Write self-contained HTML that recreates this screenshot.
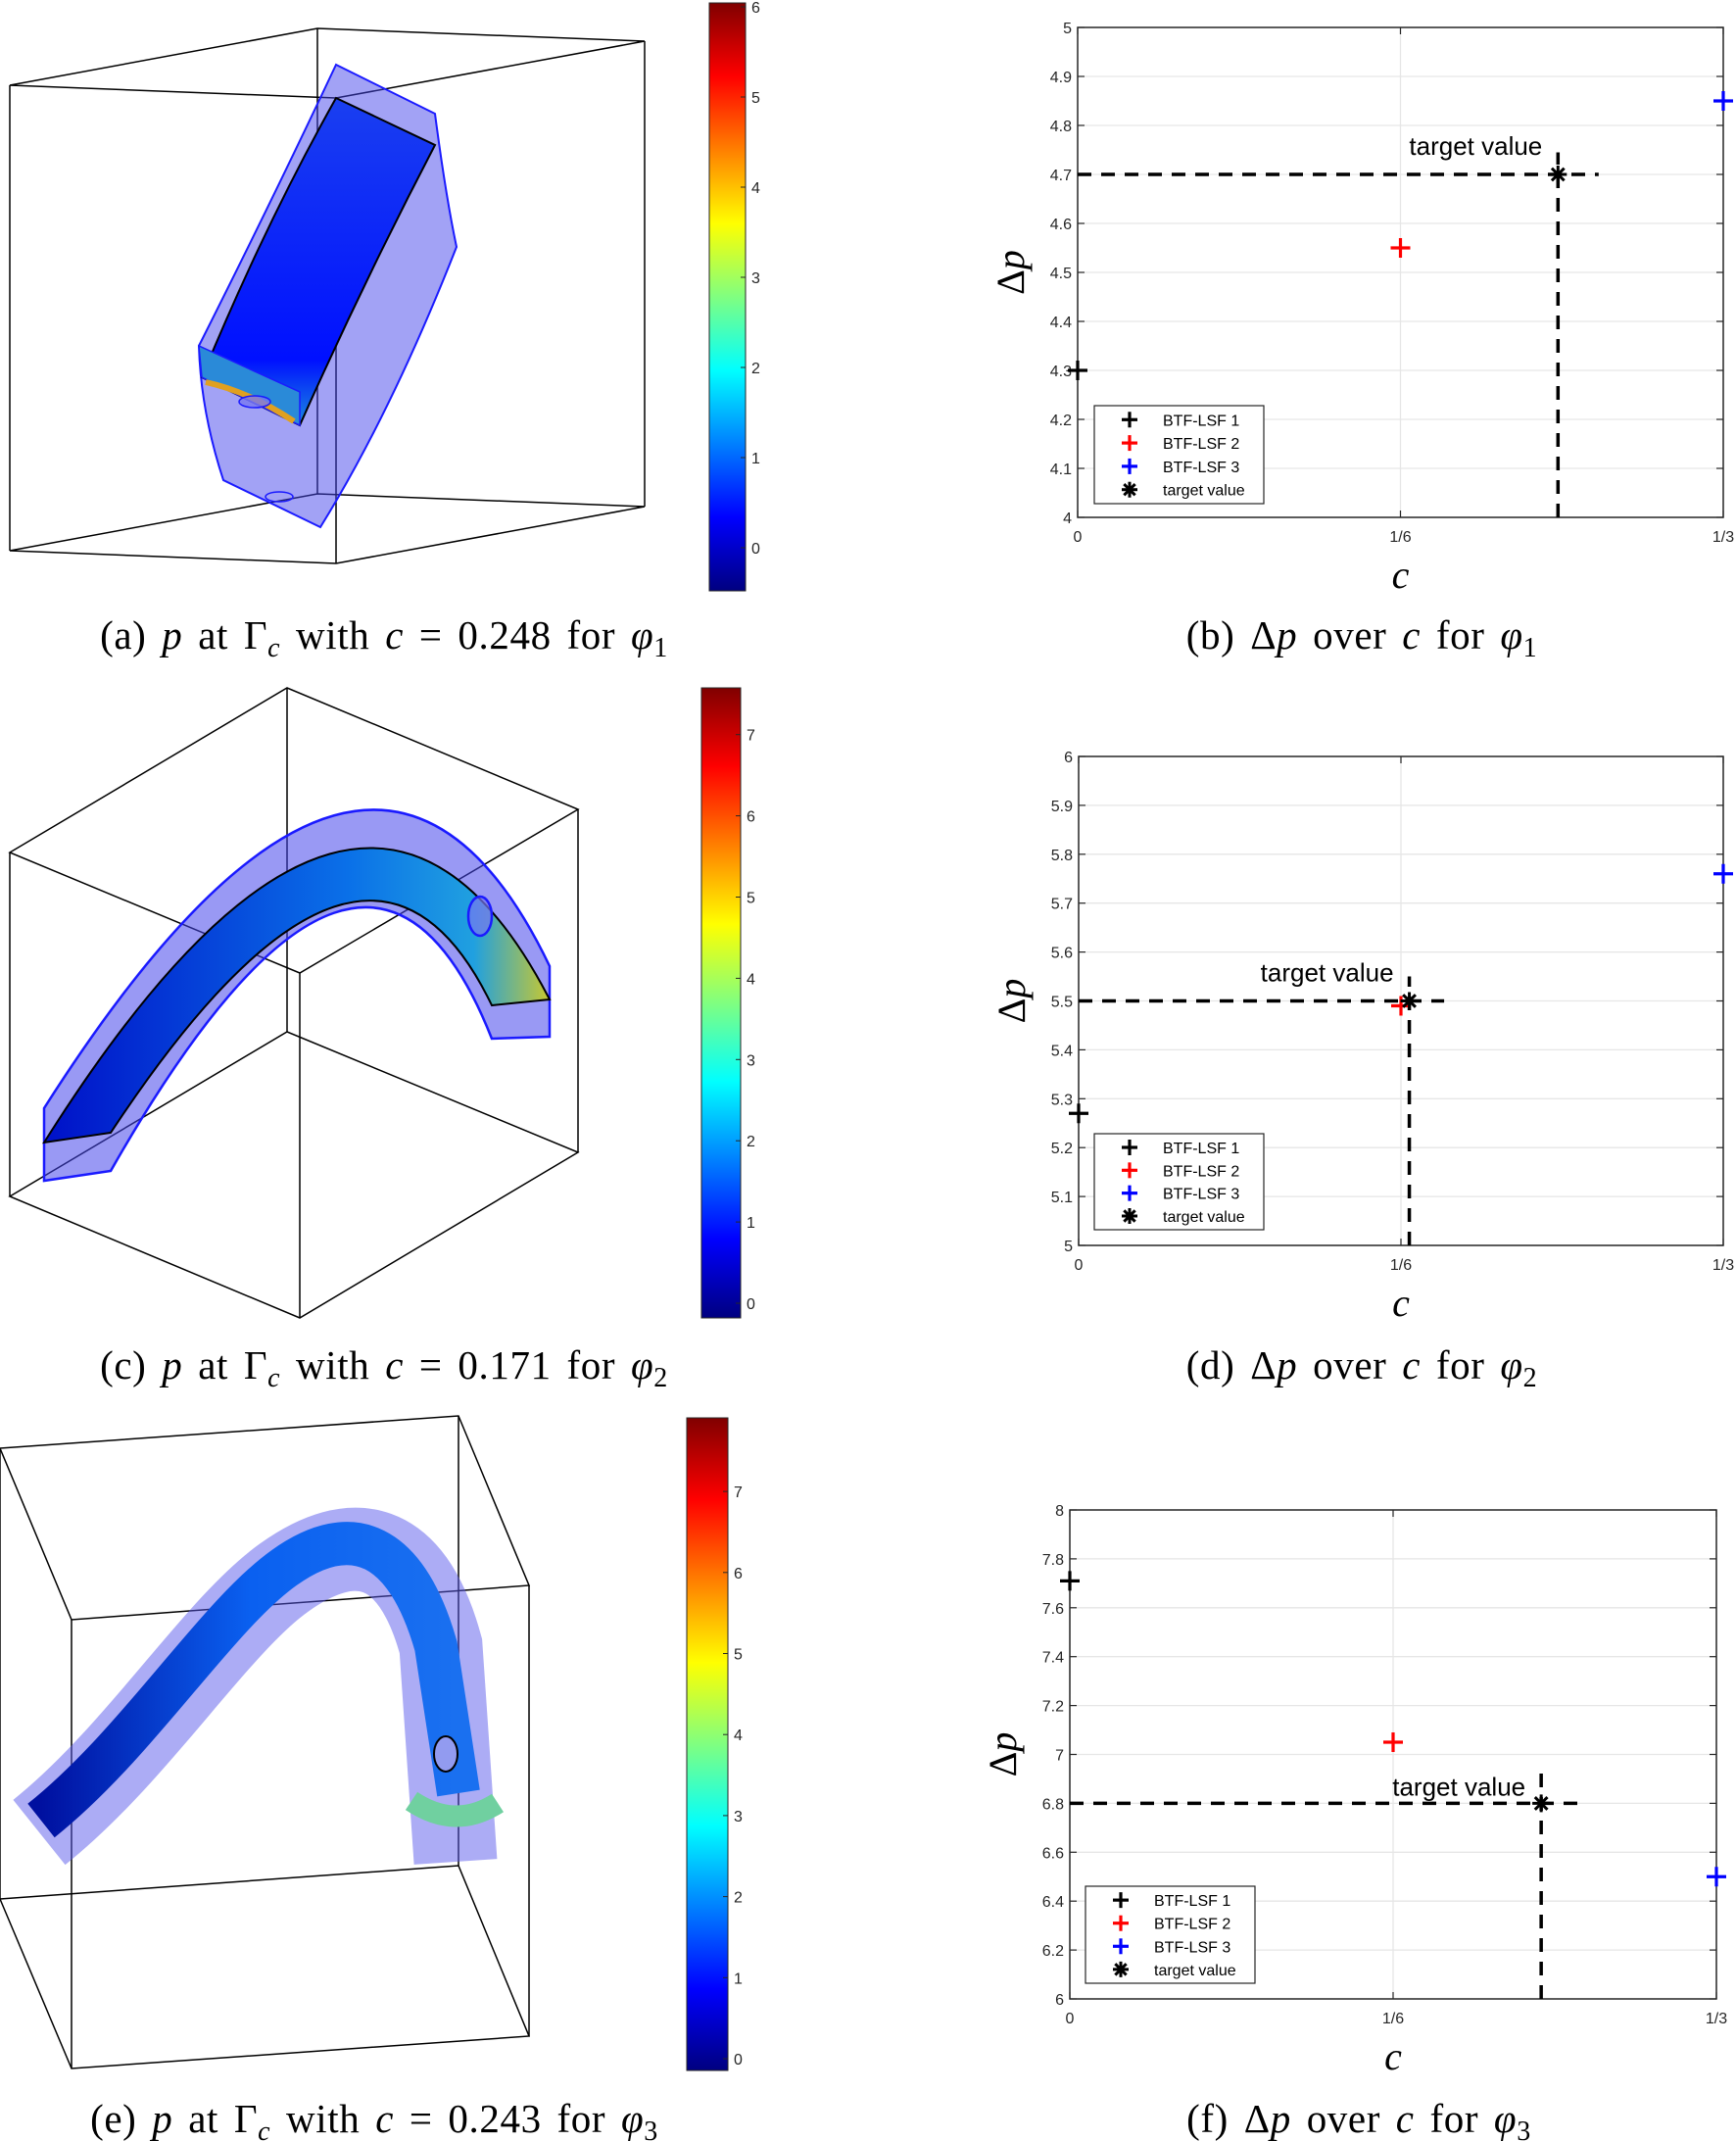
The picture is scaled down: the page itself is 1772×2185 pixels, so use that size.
<!DOCTYPE html>
<html><head><meta charset="utf-8">
<style>
html,body{margin:0;padding:0;background:#fff;}
svg{display:block;}
.tk{font-family:"Liberation Sans",sans-serif;font-size:16px;fill:#262626;}
.cap{font-family:"Liberation Serif",serif;font-size:41px;fill:#000;word-spacing:5px;letter-spacing:0.6px;}
</style></head>
<body>
<svg id="fig" width="1772" height="2185" viewBox="0 0 1772 2185" xmlns="http://www.w3.org/2000/svg">
<defs>
<linearGradient id="jet" x1="0" y1="0" x2="0" y2="1">
<stop offset="0" stop-color="#800000"/><stop offset="0.125" stop-color="#ff0000"/>
<stop offset="0.375" stop-color="#ffff00"/><stop offset="0.5" stop-color="#80ff80"/>
<stop offset="0.625" stop-color="#00ffff"/><stop offset="0.875" stop-color="#0000ff"/>
<stop offset="1" stop-color="#000080"/>
</linearGradient>
<linearGradient id="surfA" x1="0" y1="0" x2="0" y2="1">
<stop offset="0" stop-color="#1a3ff0"/><stop offset="0.8" stop-color="#0010ff"/><stop offset="1" stop-color="#1a8ae0"/>
</linearGradient>
<linearGradient id="surfC" x1="0" y1="0" x2="1" y2="0">
<stop offset="0" stop-color="#0010c8"/><stop offset="0.6" stop-color="#0a70e8"/><stop offset="0.85" stop-color="#20a0e0"/><stop offset="1" stop-color="#c8c830"/>
</linearGradient>
<linearGradient id="surfE" x1="0" y1="0" x2="1" y2="0">
<stop offset="0" stop-color="#0010a0"/><stop offset="0.5" stop-color="#0a60f0"/><stop offset="1" stop-color="#1a70f0"/>
</linearGradient>
</defs>

<!-- Panel (a) -->
<g fill="none" stroke="#000" stroke-width="1.5">
<polygon points="10,87 324,29 658,42 343,100"/>
<polygon points="10,562 324,504 658,517 343,575"/>
<line x1="10" y1="87" x2="10" y2="562"/><line x1="324" y1="29" x2="324" y2="504"/>
<line x1="658" y1="42" x2="658" y2="517"/><line x1="343" y1="100" x2="343" y2="575"/>
<path d="M343,66 L444,116 Q455,200 466,252 Q400,420 327,538 L228,490 Q205,420 203,353 Q280,200 343,66Z" fill="rgba(70,70,235,0.5)" stroke="#1a1aff" stroke-width="2"/>
<path d="M206,385 Q270,230 343,100 L444,148 Q370,290 306,434Z" fill="url(#surfA)" stroke="#000" stroke-width="2"/>
<path d="M203,353 L206,385 L306,434 L306,400Z" fill="#2a8ad8" stroke="#1a1aff" stroke-width="1.5"/>
<path d="M210,390 Q255,400 300,430" stroke="#e0a020" stroke-width="6"/>
<ellipse cx="260" cy="410" rx="16" ry="6" fill="rgba(120,120,240,0.8)" stroke="#1a1aff"/>
<ellipse cx="285" cy="507" rx="14" ry="5" stroke="#1a1aff"/>
</g>
<g>
<rect x="724" y="3" width="37" height="600" fill="url(#jet)" stroke="#262626" stroke-width="1"/>
<g class="tk" id="cbA"></g>
</g>

<!-- Panel (c) -->
<g fill="none" stroke="#000" stroke-width="1.5">
<polygon points="10,870 293,702 590,826 306,993"/>
<polygon points="10,1221 293,1053 590,1176 306,1345"/>
<line x1="10" y1="870" x2="10" y2="1221"/><line x1="293" y1="702" x2="293" y2="1053"/>
<line x1="590" y1="826" x2="590" y2="1176"/><line x1="306" y1="993" x2="306" y2="1345"/>
<path d="M45,1131 Q379,606 561,986 L561,1058 L502,1060 Q374,736 113,1195 L45,1205Z" fill="rgba(70,70,235,0.55)" stroke="#1a1aff" stroke-width="2.5"/>
<path d="M45,1166 Q370,650 561,1020 L502,1026 Q374,760 113,1156Z" fill="url(#surfC)" stroke="#000" stroke-width="2"/>
<ellipse cx="490" cy="935" rx="12" ry="20" stroke="#1a1aff" stroke-width="2.5" fill="rgba(120,120,240,0.7)"/>
</g>
<g>
<rect x="716" y="702" width="40" height="643" fill="url(#jet)" stroke="#262626" stroke-width="1"/>
<g class="tk" id="cbC"></g>
</g>

<!-- Panel (e) -->
<g fill="none" stroke="#000" stroke-width="1.5">
<polygon points="0,1478 468,1445 540,1618 73,1653"/>
<polygon points="0,1938 468,1904 540,2078 73,2111"/>
<line x1="0" y1="1478" x2="0" y2="1938"/><line x1="468" y1="1445" x2="468" y2="1904"/>
<line x1="540" y1="1618" x2="540" y2="2078"/><line x1="73" y1="1653" x2="73" y2="2111"/>
<path d="M40,1870 C140,1790 220,1660 290,1610 C360,1560 420,1570 450,1680 L465,1900" stroke="rgba(90,90,235,0.5)" stroke-width="85"/>
<path d="M42,1858 C140,1780 220,1650 290,1600 C360,1550 415,1575 445,1680 L468,1830" stroke="url(#surfE)" stroke-width="44"/>
<path d="M420,1838 Q465,1868 508,1840" stroke="#70d0a0" stroke-width="22"/>
<ellipse cx="455" cy="1790" rx="12" ry="18" fill="rgba(160,160,240,0.9)" stroke="#000" stroke-width="2"/>
</g>
<g>
<rect x="701" y="1447" width="42" height="666" fill="url(#jet)" stroke="#262626" stroke-width="1"/>
<g class="tk" id="cbE"></g>
</g>

<g id="charts"></g>

<text class="cap" x="392" y="662" text-anchor="middle">(a) <tspan font-style="italic">p</tspan> at Γ<tspan font-style="italic" font-size="28" dy="8">c</tspan><tspan dy="-8"> with </tspan><tspan font-style="italic">c</tspan> = 0.248 for <tspan font-style="italic">φ</tspan><tspan font-size="28" dy="8">1</tspan></text>
<text class="cap" x="1390" y="662" text-anchor="middle">(b) Δ<tspan font-style="italic">p</tspan> over <tspan font-style="italic">c</tspan> for <tspan font-style="italic">φ</tspan><tspan font-size="28" dy="8">1</tspan></text>
<text class="cap" x="392" y="1407" text-anchor="middle">(c) <tspan font-style="italic">p</tspan> at Γ<tspan font-style="italic" font-size="28" dy="8">c</tspan><tspan dy="-8"> with </tspan><tspan font-style="italic">c</tspan> = 0.171 for <tspan font-style="italic">φ</tspan><tspan font-size="28" dy="8">2</tspan></text>
<text class="cap" x="1390" y="1407" text-anchor="middle">(d) Δ<tspan font-style="italic">p</tspan> over <tspan font-style="italic">c</tspan> for <tspan font-style="italic">φ</tspan><tspan font-size="28" dy="8">2</tspan></text>
<text class="cap" x="382" y="2176" text-anchor="middle">(e) <tspan font-style="italic">p</tspan> at Γ<tspan font-style="italic" font-size="28" dy="8">c</tspan><tspan dy="-8"> with </tspan><tspan font-style="italic">c</tspan> = 0.243 for <tspan font-style="italic">φ</tspan><tspan font-size="28" dy="8">3</tspan></text>
<text class="cap" x="1387" y="2176" text-anchor="middle">(f) Δ<tspan font-style="italic">p</tspan> over <tspan font-style="italic">c</tspan> for <tspan font-style="italic">φ</tspan><tspan font-size="28" dy="8">3</tspan></text>
</svg>

<script>
// ---- chart data ----
const xCats = [0, 1/6, 1/3];
const xTickLabels = ['0', '1/6', '1/3'];
const seriesNames = ['BTF-LSF 1', 'BTF-LSF 2', 'BTF-LSF 3'];
const seriesColors = ['#000000', '#ff0000', '#0000ff'];

const valsB = [4.3, 4.55, 4.85];
const targetB = [0.248, 4.7];
const dashEndB = [0.269, 4.745];
const yTicksB = [4, 4.1, 4.2, 4.3, 4.4, 4.5, 4.6, 4.7, 4.8, 4.9, 5];
const yTickLabelsB = ['4','4.1','4.2','4.3','4.4','4.5','4.6','4.7','4.8','4.9','5'];

const valsD = [5.27, 5.49, 5.76];
const targetD = [0.171, 5.5];
const dashEndD = [0.189, 5.55];
const yTicksD = [5, 5.1, 5.2, 5.3, 5.4, 5.5, 5.6, 5.7, 5.8, 5.9, 6];
const yTickLabelsD = ['5','5.1','5.2','5.3','5.4','5.5','5.6','5.7','5.8','5.9','6'];

const valsF = [7.71, 7.05, 6.5];
const targetF = [0.243, 6.8];
const dashEndF = [0.263, 6.95];
const yTicksF = [6, 6.2, 6.4, 6.6, 6.8, 7, 7.2, 7.4, 7.6, 7.8, 8];
const yTickLabelsF = ['6','6.2','6.4','6.6','6.8','7','7.2','7.4','7.6','7.8','8'];

const cbTicksA = [0, 1, 2, 3, 4, 5, 6];
const cbTicksC = [0, 1, 2, 3, 4, 5, 6, 7];
const cbTicksE = [0, 1, 2, 3, 4, 5, 6, 7];

const NS = 'http://www.w3.org/2000/svg';
function mk(tag, attrs, parent) {
  const e = document.createElementNS(NS, tag);
  for (const k in attrs) e.setAttribute(k, attrs[k]);
  parent.appendChild(e);
  return e;
}

function colorbar(id, ticks, x, y0px, stepPx) {
  const g = document.getElementById(id);
  ticks.forEach(t => {
    const y = y0px - t * stepPx;
    const l = mk('line', {x1: x - 5, y1: y, x2: x, y2: y, stroke: '#262626', 'stroke-width': 1}, g);
    
    
    const tx = mk('text', {x: x + 6, y: y + 6}, g);
    tx.textContent = String(t);
    
    
  });
}
colorbar('cbA', cbTicksA, 761, 559, 92);
colorbar('cbC', cbTicksC, 756, 1330, 82.9);
colorbar('cbE', cbTicksE, 743, 2101, 82.7);

function plus(g, cx, cy, color, r) {
  mk('line', {x1: cx - r, y1: cy, x2: cx + r, y2: cy, stroke: color, 'stroke-width': 3.2}, g);
  mk('line', {x1: cx, y1: cy - r, x2: cx, y2: cy + r, stroke: color, 'stroke-width': 3.2}, g);
}
function star(g, cx, cy, r) {
  for (let i = 0; i < 4; i++) {
    const a = i * Math.PI / 4;
    mk('line', {x1: cx - r * Math.cos(a), y1: cy - r * Math.sin(a), x2: cx + r * Math.cos(a), y2: cy + r * Math.sin(a), stroke: '#000', 'stroke-width': 3}, g);
  }
}

function chart(name, box, vals, target, dashEnd, yTicks, yLabels, legendBox, labelDy) {
  const root = document.getElementById('charts');
  const g = mk('g', {}, root);
  
  
  const [L, T, R, B] = box;
  const ymin = yTicks[0], ymax = yTicks[yTicks.length - 1];
  const xs = v => L + (v - xCats[0]) / (xCats[2] - xCats[0]) * (R - L);
  const ys = v => B - (v - ymin) / (ymax - ymin) * (B - T);
  yTicks.forEach((t, i) => {
    const y = ys(t);
    if (i > 0 && i < yTicks.length - 1) mk('line', {x1: L, y1: y, x2: R, y2: y, stroke: '#e6e6e6', 'stroke-width': 1.3}, g);
    mk('line', {x1: L, y1: y, x2: L + 7, y2: y, stroke: '#262626', 'stroke-width': 1.2}, g);
    mk('line', {x1: R - 7, y1: y, x2: R, y2: y, stroke: '#262626', 'stroke-width': 1.2}, g);
    const tx = mk('text', {x: L - 6, y: y + 6, 'text-anchor': 'end', class: 'tk'}, g);
    tx.textContent = yLabels[i];
    
    
  });
  xCats.forEach((c, i) => {
    const x = xs(c);
    if (i === 1) mk('line', {x1: x, y1: T, x2: x, y2: B, stroke: '#e6e6e6', 'stroke-width': 1.3}, g);
    mk('line', {x1: x, y1: B, x2: x, y2: B - 7, stroke: '#262626', 'stroke-width': 1.2}, g);
    mk('line', {x1: x, y1: T, x2: x, y2: T + 7, stroke: '#262626', 'stroke-width': 1.2}, g);
    const tx = mk('text', {x: x, y: B + 25, 'text-anchor': 'middle', class: 'tk'}, g);
    tx.textContent = xTickLabels[i];
    
    
  });
  const frame = mk('rect', {x: L, y: T, width: R - L, height: B - T, fill: 'none', stroke: '#262626', 'stroke-width': 1.5}, g);
  
  
  const xl = mk('text', {x: (L + R) / 2, y: B + 72, 'text-anchor': 'middle', 'font-family': 'Liberation Serif, serif', 'font-style': 'italic', 'font-size': 40}, g);
  xl.textContent = 'c';
  
  
  const yl = mk('text', {x: 0, y: 0, 'text-anchor': 'middle', 'font-family': 'Liberation Serif, serif', 'font-size': 40, transform: `translate(${L - 55},${(T + B) / 2}) rotate(-90)`}, g);
  yl.innerHTML = 'Δ<tspan font-style="italic">p</tspan>';
  
  
  const tx = xs(target[0]), ty = ys(target[1]);
  const h = mk('line', {x1: L, y1: ty, x2: xs(dashEnd[0]), y2: ty, stroke: '#000', 'stroke-width': 3.5, 'stroke-dasharray': '14 10'}, g);
  
  
  const v = mk('line', {x1: tx, y1: B, x2: tx, y2: ys(dashEnd[1]), stroke: '#000', 'stroke-width': 3.5, 'stroke-dasharray': '14 10'}, g);
  
  
  vals.forEach((val, i) => {
    const pg = mk('g', {}, g);
    
    
    plus(pg, xs(xCats[i]), ys(val), seriesColors[i], 10);
  });
  const sg = mk('g', {}, g);
  
  
  star(sg, tx, ty, 9);
  const lab = mk('text', {x: tx - 16, y: ty + labelDy, 'text-anchor': 'end', 'font-family': 'Liberation Sans, sans-serif', 'font-size': 26}, g);
  lab.textContent = 'target value';
  
  
  const [lx, ly, lw, lh] = legendBox;
  const lg = mk('g', {}, g);
  
  
  mk('rect', {x: lx, y: ly, width: lw, height: lh, fill: '#fff', stroke: '#262626', 'stroke-width': 1.2}, lg);
  const rowH = lh / 4.2;
  const labels = seriesNames.concat(['target value']);
  labels.forEach((s, i) => {
    const y = ly + rowH * (i + 0.6);
    const eg = mk('g', {}, lg);
    
    
    if (i < 3) plus(eg, lx + 36, y, seriesColors[i], 8); else star(eg, lx + 36, y, 8);
    const t = mk('text', {x: lx + 70, y: y + 6, 'font-family': 'Liberation Sans, sans-serif', 'font-size': 16, fill: '#000'}, eg);
    t.textContent = s;
  });
}

chart('chart-b', [1100, 28, 1759, 528], valsB, targetB, dashEndB, yTicksB, yTickLabelsB, [1117, 414, 173, 100], -20);
chart('chart-d', [1101, 772, 1759, 1271], valsD, targetD, dashEndD, yTicksD, yTickLabelsD, [1117, 1157, 173, 98], -20);
chart('chart-f', [1092, 1541, 1752, 2040], valsF, targetF, dashEndF, yTicksF, yTickLabelsF, [1108, 1925, 173, 99], -8);
</script>
</body></html>
